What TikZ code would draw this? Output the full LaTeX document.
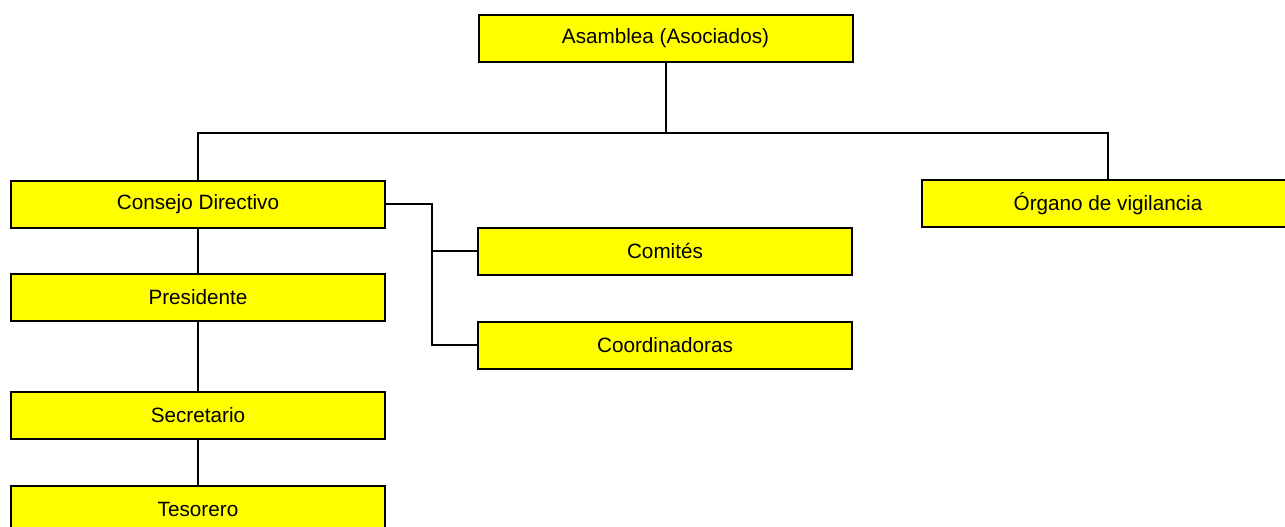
\documentclass[tikz,border=0pt]{standalone}
\usepackage{fontspec}
\setmainfont{Liberation Sans}
\definecolor{boxyellow}{RGB}{255,255,0}
\begin{document}
\begin{tikzpicture}[x=1pt,y=-1pt,
  orgbox/.style={draw=black, line width=2pt, fill=boxyellow, rectangle,
    minimum width=374pt, minimum height=47pt, inner sep=0pt,
    font=\fontsize{20.7}{24}\selectfont},
  link/.style={draw=black, line width=2pt}]
\useasboundingbox (0,0) rectangle (1285,527);
\node[orgbox] (asamblea) at (665.5,38.5) {Asamblea (Asociados)};
\node[orgbox] (consejo) at (198,204) {Consejo Directivo};
\node[orgbox, minimum width=372pt] (organo) at (1108,203.5) {Órgano de vigilancia};
\node[orgbox] (comites) at (665,251) {Comités};
\node[orgbox] (coord) at (665,345) {Coordinadoras};
\node[orgbox] (presidente) at (198,297.5) {Presidente};
\node[orgbox] (secretario) at (198,415.5) {Secretario};
\node[orgbox] (tesorero) at (198,509.5) {Tesorero};
\coordinate (bus) at (0,133);
\coordinate (sp) at (432,0);
\draw[link] (asamblea.south) -- (asamblea.south |- bus);
\draw[link] (consejo.north) -- (consejo.north |- bus) -| (organo.north);
\draw[link] (consejo.south) -- (presidente.north);
\draw[link] (presidente.south) -- (secretario.north);
\draw[link] (secretario.south) -- (tesorero.north);
\draw[link] (consejo.east) -- (sp |- consejo.east) -- (sp |- coord.west) -- (coord.west);
\draw[link] (sp |- comites.west) -- (comites.west);
\end{tikzpicture}
\end{document}
